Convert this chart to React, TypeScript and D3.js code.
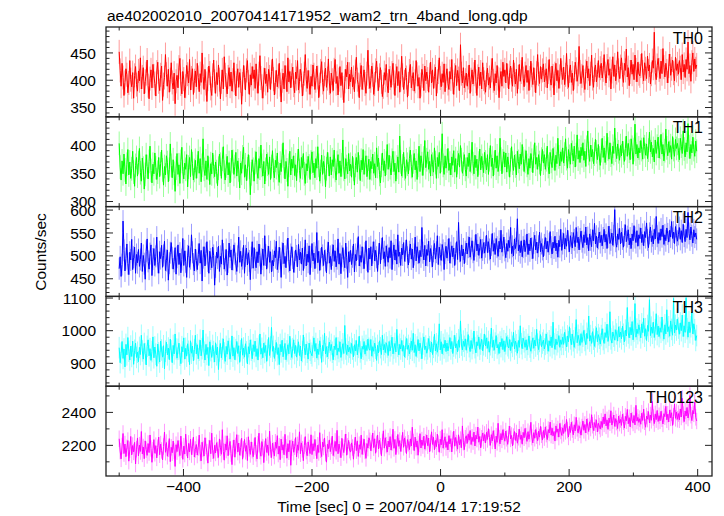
import React from 'react';
import * as d3 from 'd3';

// Light curve: 1.5-s bins starting at t = -500 s
const T_START = -500;
const BIN = 1.5;

const TH0 = [
  452,418,389,431,405,372,396,421,410,377,395,436,401,388,414,367,409,425,392,380,
  417,399,441,384,406,423,375,398,412,437,390,366,403,419,386,429,408,394,371,415,
  433,397,381,410,426,363,392,405,447,411,389,420,378,401,432,396,384,413,357,398,
  409,386,424,440,393,375,416,402,368,389,427,411,395,438,382,404,421,374,399,417,
  388,431,405,379,412,396,450,407,383,420,394,361,402,426,413,385,372,409,437,398,
  376,414,392,428,401,366,397,419,384,443,410,391,375,406,423,389,415,380,400,432,
  395,371,408,421,387,414,399,356,393,427,405,382,418,436,397,374,410,391,425,403,
  419,385,430,398,376,412,445,404,389,367,401,422,394,411,378,420,406,383,416,439,
  402,373,396,418,388,407,431,392,360,399,413,384,427,405,379,441,397,416,386,409,
  424,391,377,415,403,436,382,398,420,409,371,394,412,447,401,385,418,396,374,407,
  389,428,410,383,399,426,405,368,392,417,434,396,380,411,422,387,403,439,395,376,
  413,400,381,419,438,394,407,373,401,425,390,414,386,359,398,420,406,433,384,411,
  397,424,388,405,379,416,442,401,392,368,410,427,383,404,419,393,376,412,455,406,
  385,399,426,410,374,393,418,435,402,381,409,423,397,370,388,414,400,429,391,377,
  420,404,387,413,431,396,372,408,425,390,416,378,401,444,409,383,397,422,405,369,
  393,417,429,386,403,414,380,398,436,411,389,405,367,392,420,408,381,426,399,415,
  402,378,410,433,395,419,385,407,424,371,398,415,441,404,388,412,396,430,379,408,
  421,394,383,416,402,438,397,374,409,427,390,418,403,381,465,412,395,423,386,400,
  413,389,405,428,376,401,419,393,411,437,398,372,407,424,390,415,384,432,402,396,
  378,410,422,391,405,386,418,440,399,381,412,395,427,403,368,401,416,389,433,407,
  419,395,431,408,384,414,426,401,389,437,410,393,420,376,406,429,398,415,442,403,
  388,412,427,396,418,381,404,435,409,392,423,400,377,413,447,411,394,425,402,418,
  430,397,409,421,386,415,438,403,391,426,408,373,412,431,399,418,385,407,440,414,
  401,424,392,410,449,406,387,417,428,396,413,381,405,433,420,398,411,462,415,394,
  408,427,399,383,416,435,404,421,390,412,446,403,387,419,428,397,410,436,405,422,
  431,404,419,447,412,395,426,438,409,421,384,416,443,407,428,399,414,452,418,403,
  425,441,410,396,431,418,457,406,423,390,415,437,411,429,401,446,419,397,433,412,
  408,426,449,415,399,432,421,403,444,417,428,393,411,436,422,488,414,401,427,440,
  419,403,435,412,458,424,406,431,417,395,426,448,409,421,437,413,399,442,418,430,
  411,436,423,401,447,415,429,405,438,420,470,412,427,398,433,450,416,439,421,428,
];

const TH1 = [
  403,361,338,372,349,384,356,331,366,392,347,370,341,358,389,352,327,364,378,345,
  369,394,351,336,377,359,322,348,383,362,340,371,398,355,333,366,349,386,360,339,
  352,378,344,367,391,356,329,362,347,381,369,335,357,402,364,342,374,350,318,359,
  385,348,365,332,371,396,353,340,368,357,383,326,361,378,344,392,367,338,355,373,
  341,362,389,350,376,335,364,411,357,346,372,339,381,358,330,367,349,386,362,344,
  370,353,328,359,384,366,341,375,397,352,338,363,380,347,369,333,356,391,371,348,
  362,387,345,372,356,324,368,350,379,396,343,365,337,358,383,361,312,349,374,357,
  336,369,388,352,341,376,359,400,364,345,371,331,357,384,366,348,379,339,362,390,
  355,342,373,360,386,349,334,368,353,381,404,362,340,371,356,327,364,389,347,375,
  359,381,346,365,337,372,393,355,341,378,360,385,349,332,367,354,380,363,339,370,
  388,351,368,342,376,359,397,364,336,353,382,348,371,360,326,358,387,366,345,379,
  347,374,362,391,355,338,369,383,350,372,344,365,409,357,340,376,362,349,385,354,
  366,343,380,357,329,364,378,352,387,361,337,373,356,392,348,369,381,344,360,375,
  339,371,358,384,350,367,342,395,362,377,348,333,364,386,355,372,345,368,401,357,
  382,360,347,373,389,353,368,336,361,379,352,416,370,345,363,387,358,341,374,366,
  349,376,391,362,343,370,385,356,372,339,364,398,353,381,367,346,377,408,360,374,
  388,357,371,345,383,366,352,395,369,341,378,362,387,350,373,420,364,348,381,359,
  372,394,355,368,347,379,364,390,352,376,343,369,385,361,399,374,350,366,383,357,
  345,378,362,386,353,371,405,367,349,382,360,375,344,368,393,356,380,364,351,387,
  370,356,383,348,374,399,362,377,345,368,391,359,381,353,366,412,375,349,372,388,
  361,386,352,379,365,343,374,397,368,355,382,363,347,389,371,358,384,366,401,376,
  353,371,390,364,348,376,359,385,373,351,380,404,366,378,357,383,369,346,375,392,
  368,383,357,374,398,362,349,387,371,360,394,376,355,382,367,412,379,363,388,371,
  395,368,384,411,376,359,392,380,366,403,387,372,398,361,383,418,375,390,369,396,
  381,404,373,389,362,396,425,385,371,400,379,392,367,384,410,388,374,401,377,364,
  390,412,378,395,369,386,421,393,375,404,382,367,398,385,430,391,376,402,388,373,
  399,381,407,386,371,394,416,380,403,389,374,411,396,366,392,437,384,401,377,395,
  386,408,392,375,413,397,382,402,376,391,423,388,405,379,394,370,409,385,398,414,
  377,396,419,384,401,372,390,428,395,381,406,387,399,375,415,392,380,410,394,403,
  391,374,412,398,385,425,393,379,404,388,438,397,376,401,386,414,392,380,407,389,
];

const TH2 = [
  472,498,455,481,576,512,467,494,526,483,459,508,491,536,470,497,519,462,503,485,
  514,477,492,528,466,501,483,449,510,537,488,471,505,524,457,493,516,479,499,541,
  486,462,509,494,523,475,501,532,468,490,513,447,484,507,529,496,471,488,518,460,
  497,524,481,506,463,492,538,479,511,487,453,500,522,475,494,546,508,482,467,515,
  490,470,503,527,484,512,445,496,520,478,505,531,489,462,510,493,474,519,501,436,
  476,508,495,521,466,499,482,535,504,471,490,514,458,487,528,497,513,469,492,524,
  505,483,466,499,541,486,510,477,494,523,462,500,517,480,507,489,448,496,531,473,
  518,491,474,509,485,526,501,460,493,515,479,544,502,471,498,521,486,509,465,490,
  478,511,496,532,470,487,519,494,453,506,528,483,499,474,512,539,488,467,503,520,
  495,464,487,513,500,476,525,491,508,482,517,468,496,535,478,504,486,522,459,498,
  527,489,506,472,497,551,485,510,468,493,519,501,479,512,490,463,507,530,484,499,
  470,502,524,488,511,476,494,537,482,505,461,499,518,490,474,528,496,453,509,487,
  512,481,498,526,465,503,489,515,542,478,501,486,520,495,472,506,533,491,464,517,
  493,520,478,507,531,489,512,497,466,504,528,483,515,540,494,509,477,522,501,486,
  518,496,533,470,505,524,491,513,482,546,499,508,479,517,502,529,488,511,535,497,
  480,509,526,493,515,474,503,541,489,520,506,484,512,498,562,507,491,523,478,514,
  501,532,487,516,499,476,510,527,493,508,544,481,519,503,490,525,512,470,506,521,
  495,513,538,484,507,522,498,517,479,505,531,492,573,510,488,524,500,515,483,509,
  528,504,519,541,497,516,533,508,490,522,547,511,526,501,518,536,495,513,529,506,
  520,545,507,531,514,493,524,549,510,527,503,538,519,499,532,515,556,508,523,541,
  512,496,527,510,534,518,562,505,521,500,537,516,529,581,511,524,507,533,498,519,
  535,509,522,548,503,526,511,539,517,494,528,545,513,530,506,521,552,509,527,514,
  498,524,540,515,532,508,526,553,519,504,530,517,543,511,528,497,534,520,558,512,
  527,549,515,538,521,556,532,509,544,528,517,551,535,520,562,529,541,513,537,554,
  531,518,546,529,563,524,540,511,548,535,520,557,533,571,526,543,517,538,552,529,
  545,522,539,558,530,547,516,541,565,527,535,550,523,544,601,532,519,548,536,560,
  526,552,537,519,545,568,531,542,557,524,539,516,548,533,566,540,529,555,521,546,
  538,561,529,547,522,553,540,572,535,518,549,563,531,544,526,558,537,586,543,527,
  551,534,559,542,567,525,546,533,561,548,530,556,541,575,538,552,527,564,545,532,
  547,562,536,555,529,569,543,531,558,540,595,549,535,563,544,528,557,541,550,536,
];

const TH3 = [
  948,902,931,967,915,944,889,958,926,979,937,910,953,921,968,897,940,962,918,934,
  905,949,927,986,938,913,961,930,895,952,972,923,945,909,936,981,917,950,928,891,
  959,932,904,968,941,919,954,883,937,965,926,947,911,974,938,902,955,929,990,944,
  916,943,962,925,899,951,935,978,913,946,922,960,937,896,969,931,953,908,942,986,
  929,957,914,940,971,923,945,1002,934,910,958,927,949,893,966,939,918,955,936,904,
  963,926,950,881,938,961,917,944,975,932,906,952,928,969,945,913,937,984,922,948,
  911,942,967,930,954,903,939,976,925,947,919,960,935,898,951,929,972,940,914,957,
  936,968,921,945,910,953,990,928,946,917,962,933,955,906,941,979,924,950,1010,937,
  952,915,939,964,927,948,896,958,935,971,920,944,961,911,938,957,929,983,943,918,
  945,972,930,955,919,941,966,924,953,907,936,987,948,926,959,934,913,962,940,931,
  923,950,978,937,961,916,944,927,969,948,903,955,938,992,929,951,920,946,965,939,
  958,934,911,953,942,979,925,947,936,966,918,941,960,930,1016,944,927,956,935,949,
  931,961,944,920,957,938,970,926,949,983,935,914,952,943,967,928,955,939,974,946,
  940,973,922,951,937,962,946,909,955,932,969,948,927,986,941,958,933,963,950,924,
  967,938,954,980,929,947,961,935,1004,952,926,958,944,970,937,955,919,949,976,943,
  955,929,946,968,940,992,933,957,921,950,973,938,962,946,914,959,981,942,953,931,
  944,976,951,935,965,927,949,989,938,960,934,954,1021,941,966,929,958,947,971,936,
  962,938,955,979,944,967,930,953,986,947,960,935,972,949,1030,956,941,968,952,975,
  940,964,988,951,936,970,945,961,999,948,932,966,954,981,943,959,974,938,957,990,
  953,978,946,967,934,957,1008,949,971,940,962,985,947,958,930,965,951,976,942,969,
  936,960,982,954,947,973,939,964,952,995,944,968,957,931,970,949,1015,960,945,977,
  966,949,972,941,958,984,950,937,963,978,946,971,953,1004,959,942,967,988,951,962,
  971,944,958,990,962,937,969,954,981,948,1026,960,943,974,957,966,985,949,972,958,
  980,958,995,971,950,984,966,1012,975,957,990,969,949,978,1034,963,986,972,955,991,
  964,983,1001,970,957,992,976,1045,968,985,961,997,974,952,981,1009,966,988,977,959,
  985,1006,973,961,994,979,1020,967,986,1058,975,962,996,983,971,1003,990,968,1012,981,
  996,975,1014,989,966,1002,984,1071,993,978,1010,987,1028,972,999,1083,980,1005,991,1018,
  1000,978,1021,994,1038,983,1006,970,1016,998,1095,985,1011,992,1026,979,1003,1052,988,1014,
  982,1009,995,1042,1001,974,1018,990,1064,997,1012,983,1030,1004,986,1099,993,1017,1002,1036,
  1008,989,1024,1000,1048,982,1015,995,1101,1006,980,1027,994,1012,1057,990,1021,1003,970,985,
];

const TH0123 = [
  2240,2165,2118,2196,2272,2150,2208,2131,2185,2229,2104,2173,2254,2142,2199,2160,2218,2087,2177,2245,
  2136,2201,2163,2284,2148,2190,2119,2227,2174,2139,2211,2156,2263,2181,2097,2170,2235,2152,2198,2124,
  2186,2250,2143,2208,2169,2112,2193,2281,2158,2217,2134,2179,2241,2101,2188,2155,2226,2166,2072,2204,
  2162,2229,2181,2138,2256,2173,2115,2195,2147,2268,2184,2123,2212,2160,2237,2144,2191,2250,2129,2175,
  2205,2141,2187,2262,2153,2106,2219,2178,2135,2246,2196,2158,2092,2183,2230,2149,2274,2167,2121,2200,
  2154,2216,2172,2127,2239,2185,2146,2295,2163,2110,2209,2171,2258,2137,2192,2224,2150,2083,2181,2233,
  2128,2197,2265,2159,2214,2140,2186,2243,2116,2176,2236,2164,2199,2108,2252,2182,2145,2221,2170,2131,
  2193,2248,2152,2118,2207,2274,2166,2134,2223,2189,2095,2178,2241,2157,2202,2139,2286,2174,2126,2213,
  2168,2135,2219,2182,2259,2147,2195,2113,2238,2171,2204,2143,2267,2188,2122,2210,2161,2230,2079,2185,
  2226,2158,2191,2247,2130,2203,2170,2282,2149,2215,2176,2107,2198,2253,2165,2137,2221,2184,2150,2264,
  2144,2210,2167,2236,2186,2119,2201,2157,2277,2173,2132,2220,2190,2245,2153,2098,2207,2179,2233,2162,
  2197,2256,2138,2181,2224,2164,2291,2149,2208,2175,2125,2243,2188,2156,2217,2269,2140,2194,2230,2171,
  2159,2215,2187,2116,2199,2250,2168,2227,2133,2204,2176,2262,2145,2192,2238,2166,2121,2211,2183,2246,
  2228,2167,2214,2275,2186,2240,2152,2209,2263,2178,2232,2195,2137,2221,2288,2183,2246,2201,2159,2226,
  2190,2253,2171,2217,2298,2182,2236,2144,2207,2266,2194,2229,2163,2211,2279,2188,2245,2205,2150,2235,
  2213,2174,2239,2196,2310,2220,2168,2250,2189,2227,2140,2208,2271,2184,2232,2199,2256,2177,2218,2263,
  2198,2244,2161,2215,2282,2206,2249,2173,2230,2192,2268,2211,2158,2237,2203,2295,2183,2225,2252,2187,
  2222,2172,2259,2209,2241,2160,2230,2286,2195,2248,2214,2177,2264,2203,2235,2186,2318,2219,2174,2243,
  2258,2212,2270,2231,2290,2205,2249,2223,2281,2196,2262,2238,2311,2219,2254,2185,2243,2275,2228,2266,
  2214,2279,2236,2301,2248,2200,2265,2227,2289,2242,2178,2256,2218,2334,2244,2209,2272,2233,2295,2251,
  2225,2287,2243,2206,2268,2317,2239,2260,2196,2253,2284,2230,2275,2213,2249,2298,2236,2263,2207,2279,
  2246,2303,2257,2224,2283,2238,2271,2340,2250,2215,2277,2243,2296,2259,2228,2286,2250,2315,2264,2232,
  2290,2247,2312,2268,2235,2296,2275,2341,2262,2304,2258,2284,2226,2318,2279,2300,2250,2333,2287,2261,
  2306,2272,2328,2285,2357,2293,2251,2315,2278,2340,2296,2264,2325,2288,2370,2303,2276,2319,2294,2262,
  2311,2348,2291,2327,2275,2360,2316,2284,2343,2305,2386,2322,2290,2338,2309,2355,2281,2334,2317,2299,
  2345,2308,2372,2330,2391,2318,2355,2297,2366,2337,2410,2323,2350,2384,2315,2362,2341,2302,2378,2335,
  2357,2321,2389,2344,2305,2376,2349,2418,2331,2368,2312,2396,2353,2336,2381,2324,2443,2347,2370,2339,
  2362,2328,2395,2351,2420,2343,2310,2378,2359,2405,2336,2384,2352,2466,2369,2332,2391,2356,2412,2345,
  2380,2349,2407,2361,2330,2392,2374,2437,2355,2389,2342,2415,2367,2398,2321,2376,2451,2364,2402,2358,
  2393,2355,2421,2372,2486,2387,2344,2409,2378,2430,2366,2401,2502,2383,2350,2412,2391,2463,2370,2348,
];

const SERIES = [TH0, TH1, TH2, TH3, TH0123];
const ERRORS = [22, 21, 24, 33, 50];
const PANEL_NAMES = ['TH0', 'TH1', 'TH2', 'TH3', 'TH0123'];
const COLORS = ['#ff0000', '#00ff00', '#0000ff', '#00ffff', '#ff00ff'];
const Y_DOMAINS: [number, number][] = [
  [333, 497.5], [291, 450], [411.5, 607.6], [830, 1105], [2014, 2559],
];
const Y_MAJOR = [
  [350, 400, 450], [300, 350, 400], [450, 500, 550, 600], [900, 1000, 1100], [2200, 2400],
];
const Y_MINOR_STEP = [10, 10, 10, 20, 100];
const X_DOMAIN: [number, number] = [-520.5, 422.3];
const X_MAJOR = [-400, -200, 0, 200, 400];
const X_MINOR = [-500, -300, -100, 100, 300];

const TITLE = 'ae402002010_20070414171952_wam2_trn_4band_long.qdp';
const X_LABEL = 'Time [sec] 0 = 2007/04/14 17:19:52';
const Y_LABEL = 'Counts/sec';

const W = 724;
const H = 516;
const LEFT = 106;
const RIGHT = 712;
const TOP = 27;
const BOTTOM = 476;
const FONT = '"Liberation Sans", Arial, Helvetica, sans-serif';
const AXIS = '#222';

export default function App() {
  const x = d3.scaleLinear().domain(X_DOMAIN).range([LEFT, RIGHT]);
  const nP = SERIES.length;
  const pH = (BOTTOM - TOP) / nP;

  return (
    <svg width={W} height={H} style={{ position: 'absolute', left: 0, top: 0, background: '#fff' }}
      fontFamily={FONT}>
      <rect x={0} y={0} width={W} height={H} fill="#fff" />
      <defs>
        {SERIES.map((_, i) => (
          <clipPath id={`clip${i}`} key={i}>
            <rect x={LEFT} y={TOP + i * pH} width={RIGHT - LEFT} height={pH} />
          </clipPath>
        ))}
      </defs>
      {SERIES.map((vals, i) => {
        const y0 = TOP + i * pH;
        const y1 = y0 + pH;
        const y = d3.scaleLinear().domain(Y_DOMAINS[i]).range([y1, y0]);
        const t = (k: number) => T_START + k * BIN;
        const line = d3.line<number>().x((_, k) => x(t(k))).y((v) => y(v));
        const err = ERRORS[i];
        const errPath = vals
          .map((v, k) => `M${x(t(k)).toFixed(2)},${y(v + err).toFixed(2)}V${y(v - err).toFixed(2)}`)
          .join('');
        const [d0, d1] = Y_DOMAINS[i];
        const step = Y_MINOR_STEP[i];
        const minors: number[] = [];
        for (let v = Math.ceil(d0 / step) * step; v <= d1; v += step) {
          if (!Y_MAJOR[i].includes(v)) minors.push(v);
        }
        return (
          <g key={i}>
            <g clipPath={`url(#clip${i})`}>
              <path d={errPath} stroke={COLORS[i]} strokeOpacity={0.4} strokeWidth={1} fill="none" />
              <path d={line(vals) || ''} stroke={COLORS[i]} strokeWidth={1} fill="none" />
            </g>
            {Y_MAJOR[i].map((v) => (
              <g key={`M${v}`}>
                <line x1={LEFT} x2={LEFT + 7} y1={y(v)} y2={y(v)} stroke={AXIS} strokeWidth={1} />
                <line x1={RIGHT} x2={RIGHT - 7} y1={y(v)} y2={y(v)} stroke={AXIS} strokeWidth={1} />
                <text x={96} y={y(v)} dy="0.36em" textAnchor="end" fontSize={15.5} fill="#000">{v}</text>
              </g>
            ))}
            {minors.map((v) => (
              <g key={`m${v}`}>
                <line x1={LEFT} x2={LEFT + 3.5} y1={y(v)} y2={y(v)} stroke={AXIS} strokeWidth={1} />
                <line x1={RIGHT} x2={RIGHT - 3.5} y1={y(v)} y2={y(v)} stroke={AXIS} strokeWidth={1} />
              </g>
            ))}
            {X_MAJOR.map((v) => (
              <g key={`xM${v}`}>
                <line x1={x(v)} x2={x(v)} y1={y0} y2={y0 + 7} stroke={AXIS} strokeWidth={1} />
                <line x1={x(v)} x2={x(v)} y1={y1} y2={y1 - 7} stroke={AXIS} strokeWidth={1} />
              </g>
            ))}
            {X_MINOR.map((v) => (
              <g key={`xm${v}`}>
                <line x1={x(v)} x2={x(v)} y1={y0} y2={y0 + 3.5} stroke={AXIS} strokeWidth={1} />
                <line x1={x(v)} x2={x(v)} y1={y1} y2={y1 - 3.5} stroke={AXIS} strokeWidth={1} />
              </g>
            ))}
            <rect x={LEFT} y={y0} width={RIGHT - LEFT} height={pH} fill="none" stroke={AXIS} strokeWidth={1.3} />
            <text x={703} y={y0 + 16.5} textAnchor="end" fontSize={16} fill="#000">{PANEL_NAMES[i]}</text>
          </g>
        );
      })}
      {X_MAJOR.map((v) => (
        <text key={v} x={x(v)} y={492} textAnchor="middle" fontSize={15.5} fill="#000">
          {v < 0 ? `\u2212${Math.abs(v)}` : v}
        </text>
      ))}
      <text x={LEFT + 1} y={20.5} fontSize={15.5} fill="#000">{TITLE}</text>
      <text x={(LEFT + RIGHT) / 2 - 10} y={512} textAnchor="middle" fontSize={15.5} fill="#000">{X_LABEL}</text>
      <text transform={`translate(46,252) rotate(-90)`} textAnchor="middle" fontSize={15.5} fill="#000">{Y_LABEL}</text>
    </svg>
  );
}
